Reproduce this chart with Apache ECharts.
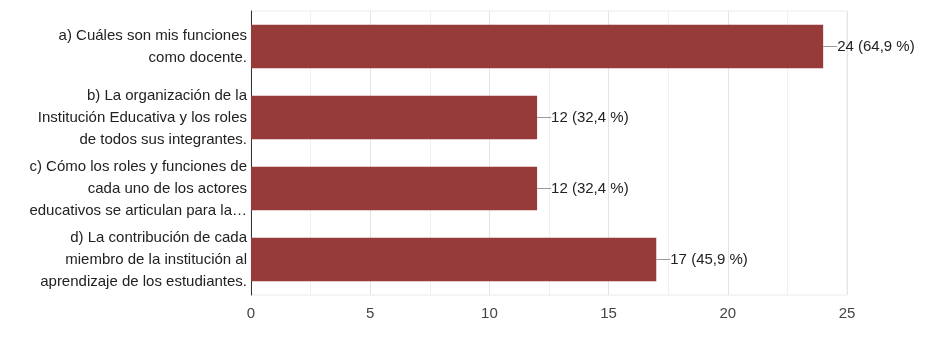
<!DOCTYPE html>
<html><head><meta charset="utf-8">
<script src="https://cdn.jsdelivr.net/npm/echarts@6/dist/echarts.min.js"></script>
<style>html,body{margin:0;padding:0;background:#fff}#c{width:933px;height:344px}</style>
</head><body><div id="c"></div>
<script>
const categories = [
  "a) Cuáles son mis funciones\ncomo docente.",
  "b) La organización de la\nInstitución Educativa y los roles\nde todos sus integrantes.",
  "c) Cómo los roles y funciones de\ncada uno de los actores\neducativos se articulan para la…",
  "d) La contribución de cada\nmiembro de la institución al\naprendizaje de los estudiantes."
];
const counts = [24, 12, 12, 17];
const percents = ["64,9", "32,4", "32,4", "45,9"];
const xTicks = [0, 5, 10, 15, 20, 25];

const chart = echarts.init(document.getElementById('c'));
chart.setOption({
  animation: false,
  grid: { left: 251, top: 11, right: 86, bottom: 49, show: true, borderColor: '#ececec', borderWidth: 1 },
  xAxis: {
    type: 'value', min: xTicks[0], max: xTicks[xTicks.length - 1], interval: 5,
    axisLine: { show: false }, axisTick: { show: false },
    axisLabel: { color: '#444', fontSize: 15, fontFamily: 'Liberation Sans, Arial', margin: 11 },
    splitLine: { show: true, lineStyle: { color: '#e4e4e4' } },
    minorTick: { show: false, splitNumber: 2 },
    minorSplitLine: { show: true, lineStyle: { color: '#f0f0f0' } }
  },
  yAxis: {
    type: 'category', data: categories, inverse: true,
    axisLine: { show: true, lineStyle: { color: '#333', width: 1 } },
    axisTick: { show: false },
    axisLabel: { color: '#222', fontSize: 15, fontFamily: 'Liberation Sans, Arial', lineHeight: 22, align: 'right', margin: 4 }
  },
  series: [{
    type: 'bar', barWidth: '61%',
    data: counts,
    itemStyle: { color: '#963a3a' },
    label: {
      show: true, position: 'right', distance: 0,
      formatter: p => '{l|}{t|' + counts[p.dataIndex] + ' (' + percents[p.dataIndex] + ' %)}',
      rich: {
        l: { width: 14, height: 1, backgroundColor: '#9a9a9a' },
        t: { color: '#222', fontSize: 15, fontFamily: 'Liberation Sans, Arial' }
      }
    }
  }]
});
</script></body></html>
